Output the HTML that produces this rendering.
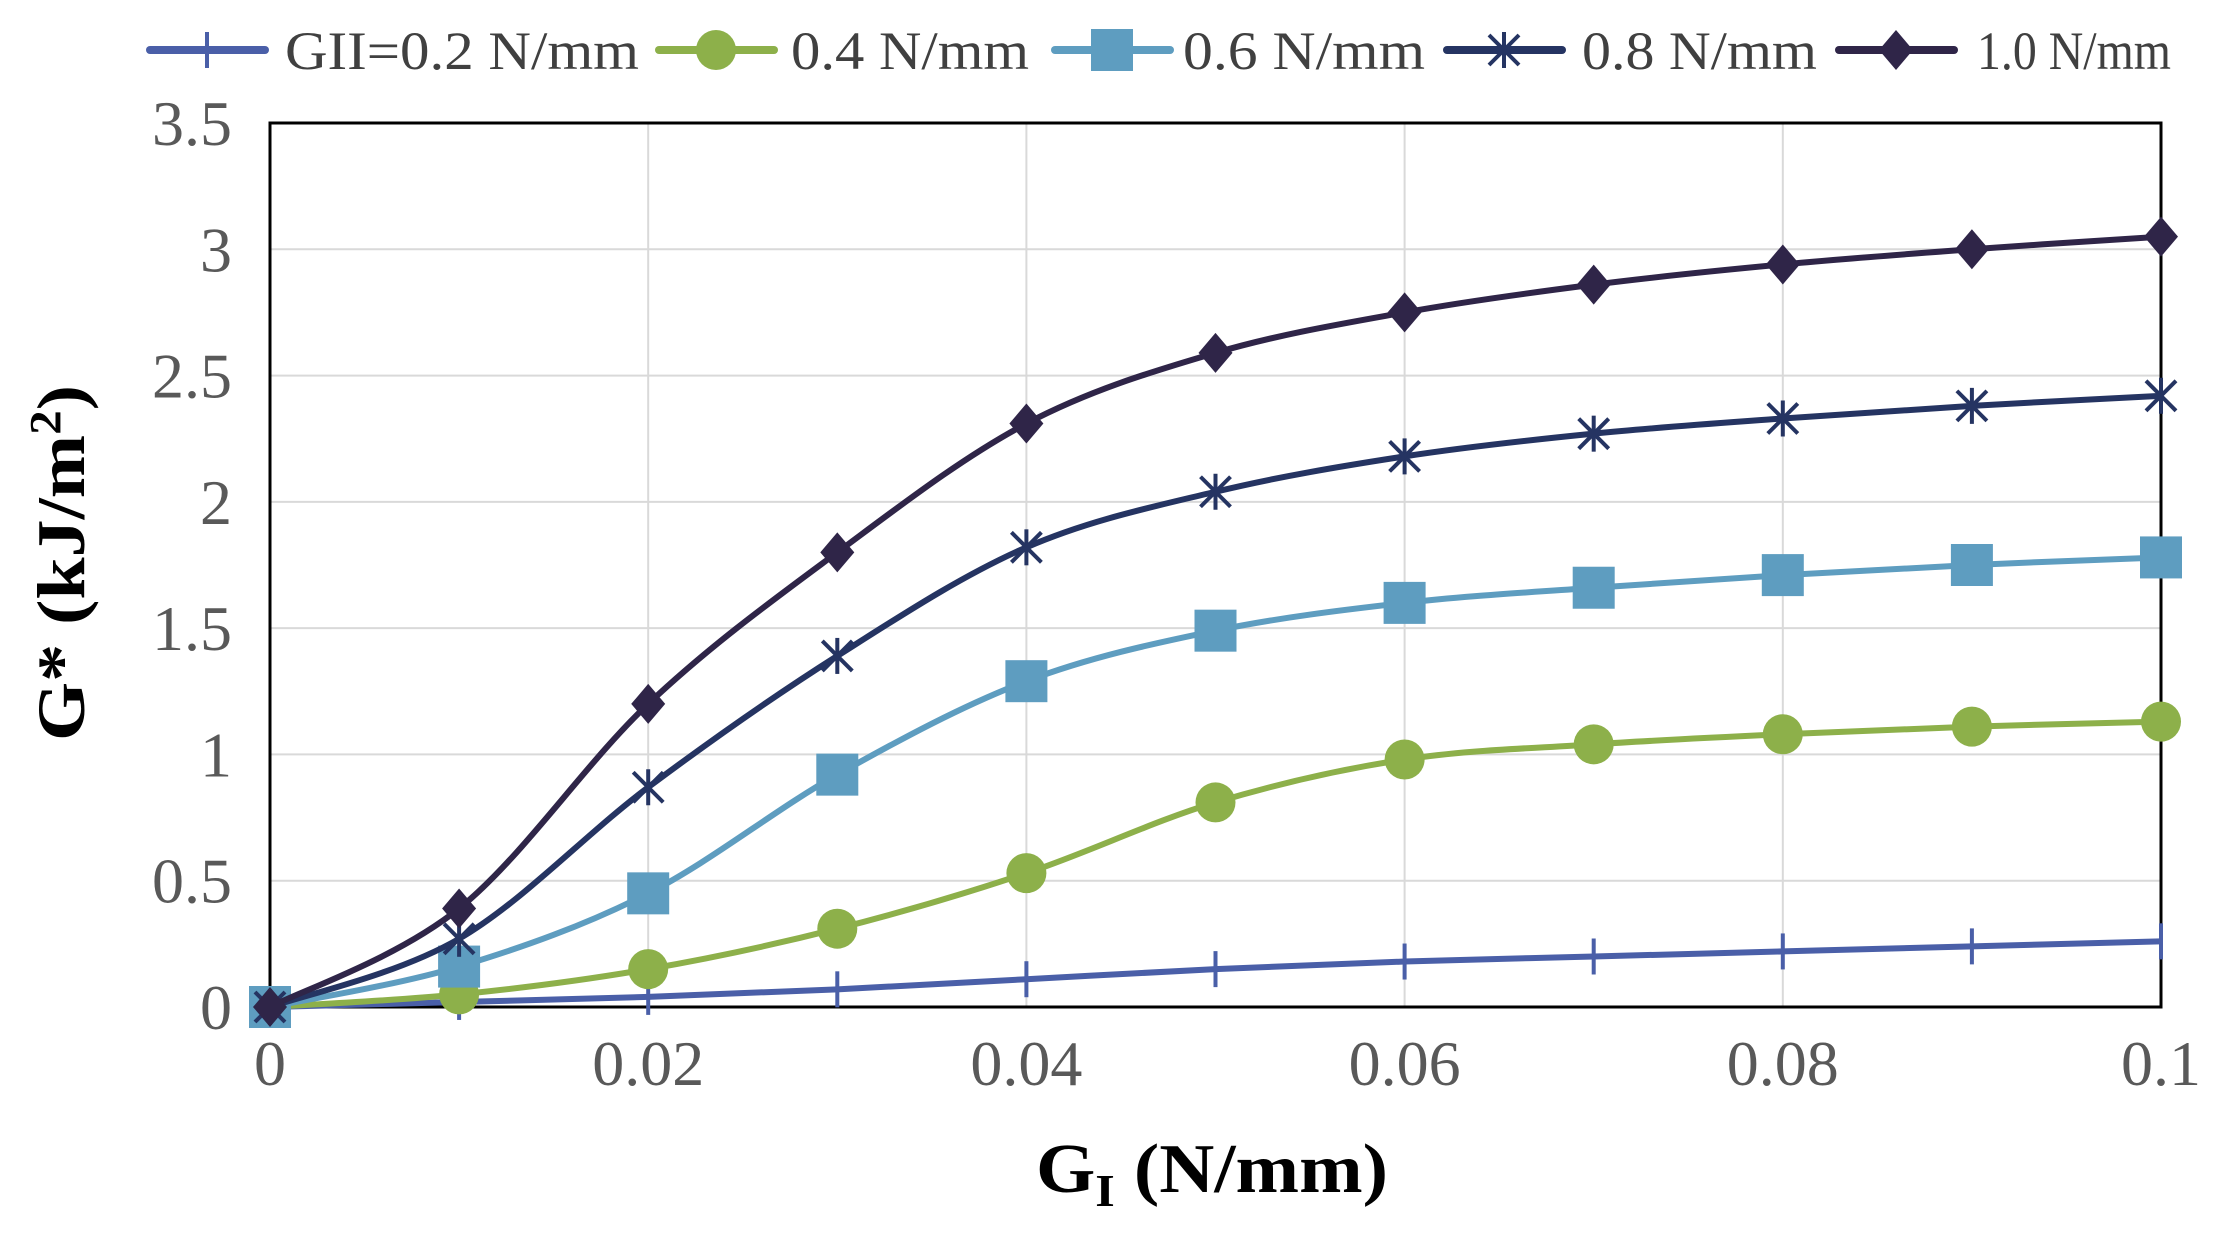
<!DOCTYPE html>
<html><head><meta charset="utf-8"><style>
html,body{margin:0;padding:0;background:#fff;}
svg{display:block;}
text{font-family:"Liberation Serif",serif;}
</style></head><body>
<svg id="s" width="2235" height="1237" viewBox="0 0 2235 1237" xmlns="http://www.w3.org/2000/svg">
<rect width="2235" height="1237" fill="#fff"/>
<g id="grid" stroke="#d9d9d9" stroke-width="2"></g>
<rect x="270" y="123" width="1891" height="884" fill="none" stroke="#000" stroke-width="3"/>
<g id="ticks" fill="#595959" font-size="64"></g>
<g id="series"></g>
<g id="legend" font-size="54" fill="#404040"></g>
<text x="1212" y="1192" font-size="70" font-weight="bold" text-anchor="middle" fill="#000" textLength="352" lengthAdjust="spacingAndGlyphs">G<tspan font-size="46" dy="14">I</tspan><tspan dy="-14"> (N/mm)</tspan></text>
<text transform="translate(84,563) rotate(-90)" font-size="68" font-weight="bold" text-anchor="middle" fill="#000" textLength="356" lengthAdjust="spacingAndGlyphs">G* (kJ/m<tspan font-size="44" dy="-24">2</tspan><tspan dy="24">)</tspan></text>
</svg>
<script>
const NS="http://www.w3.org/2000/svg";
const L=270,R=2161,T=123,B=1007;
const X=v=>L+(R-L)*v/0.1, Y=v=>B-(B-T)*v/3.5;
function el(t,a,p){const e=document.createElementNS(NS,t);for(const k in a)e.setAttribute(k,a[k]);p.appendChild(e);return e;}
const grid=document.getElementById('grid'),ticks=document.getElementById('ticks');
for(let i=1;i<7;i++){el('line',{x1:L,x2:R,y1:Y(i*0.5),y2:Y(i*0.5)},grid);}
for(let i=1;i<5;i++){el('line',{x1:X(i*0.02),x2:X(i*0.02),y1:T,y2:B},grid);}
const yl=["0","0.5","1","1.5","2","2.5","3","3.5"];
yl.forEach((s,i)=>{const t=el('text',{x:232,y:Y(i*0.5)+22,'text-anchor':'end'},ticks);t.textContent=s;});
const xl=["0","0.02","0.04","0.06","0.08","0.1"];
xl.forEach((s,i)=>{const t=el('text',{x:X(i*0.02),y:1085,'text-anchor':'middle'},ticks);t.textContent=s;});
const data=[
 {c:"#4a5fa8",m:"plus",d:[0,0.02,0.04,0.07,0.11,0.15,0.18,0.2,0.22,0.24,0.26]},
 {c:"#8db04a",m:"circle",d:[0,0.05,0.15,0.31,0.53,0.81,0.98,1.04,1.08,1.11,1.13]},
 {c:"#5e9dc0",m:"square",d:[0,0.16,0.45,0.92,1.29,1.49,1.60,1.66,1.71,1.75,1.78]},
 {c:"#253462",m:"star",d:[0,0.27,0.87,1.39,1.82,2.04,2.18,2.27,2.33,2.38,2.42]},
 {c:"#2f2548",m:"diamond",d:[0,0.39,1.20,1.80,2.31,2.59,2.75,2.86,2.94,3.00,3.05]}
];
function marker(type,x,y,c,g){
 if(type=="plus"){el('line',{x1:x,x2:x,y1:y-18,y2:y+18,stroke:c,'stroke-width':4},g);}
 else if(type=="circle"){el('circle',{cx:x,cy:y,r:20,fill:c},g);}
 else if(type=="square"){el('rect',{x:x-21,y:y-21,width:42,height:42,fill:c},g);}
 else if(type=="diamond"){el('polygon',{points:`${x},${y-20} ${x+17},${y} ${x},${y+20} ${x-17},${y}`,fill:c},g);}
 else if(type=="star"){[[0,18],[15,15],[-15,15]].forEach(([dx,dy])=>{el('line',{x1:x-dx,y1:y-dy,x2:x+dx,y2:y+dy,stroke:c,'stroke-width':4},g);});}
}
const sg=document.getElementById('series');
data.forEach(s=>{
 const p=s.d.map((v,i)=>[X(i*0.01),Y(v)]);
 let d=`M${p[0][0]},${p[0][1]}`;
 for(let i=0;i<p.length-1;i++){
  const p0=p[i-1]||p[i],p1=p[i],p2=p[i+1],p3=p[i+2]||p2;
  const c1=[p1[0]+(p2[0]-p0[0])/6,p1[1]+(p2[1]-p0[1])/6];
  const c2=[p2[0]-(p3[0]-p1[0])/6,p2[1]-(p3[1]-p1[1])/6];
  d+=` C${c1[0]},${c1[1]} ${c2[0]},${c2[1]} ${p2[0]},${p2[1]}`;
 }
 el('path',{d:d,fill:'none',stroke:s.c,'stroke-width':6},sg);
 p.forEach(q=>marker(s.m,q[0],q[1],s.c,sg));
});
const lg=document.getElementById('legend');
const leg=[[150,285,"GII=0.2 N/mm",354],[659,791,"0.4 N/mm",238],[1055,1183,"0.6 N/mm",242],[1447,1582,"0.8 N/mm",235],[1839,1977,"1.0 N/mm",194]];
leg.forEach((l,i)=>{
 const c=data[i].c, y=50;
 el('line',{x1:l[0],x2:l[0]+115,y1:y,y2:y,stroke:c,'stroke-width':8,'stroke-linecap':'round'},lg);
 const mk=document.createElementNS(NS,'g');lg.appendChild(mk);
 marker(data[i].m,l[0]+57,y,c,mk);
 const t=el('text',{x:l[1],y:y+19,textLength:l[3],lengthAdjust:'spacingAndGlyphs'},lg);t.textContent=l[2];
});
</script>
</body></html>
